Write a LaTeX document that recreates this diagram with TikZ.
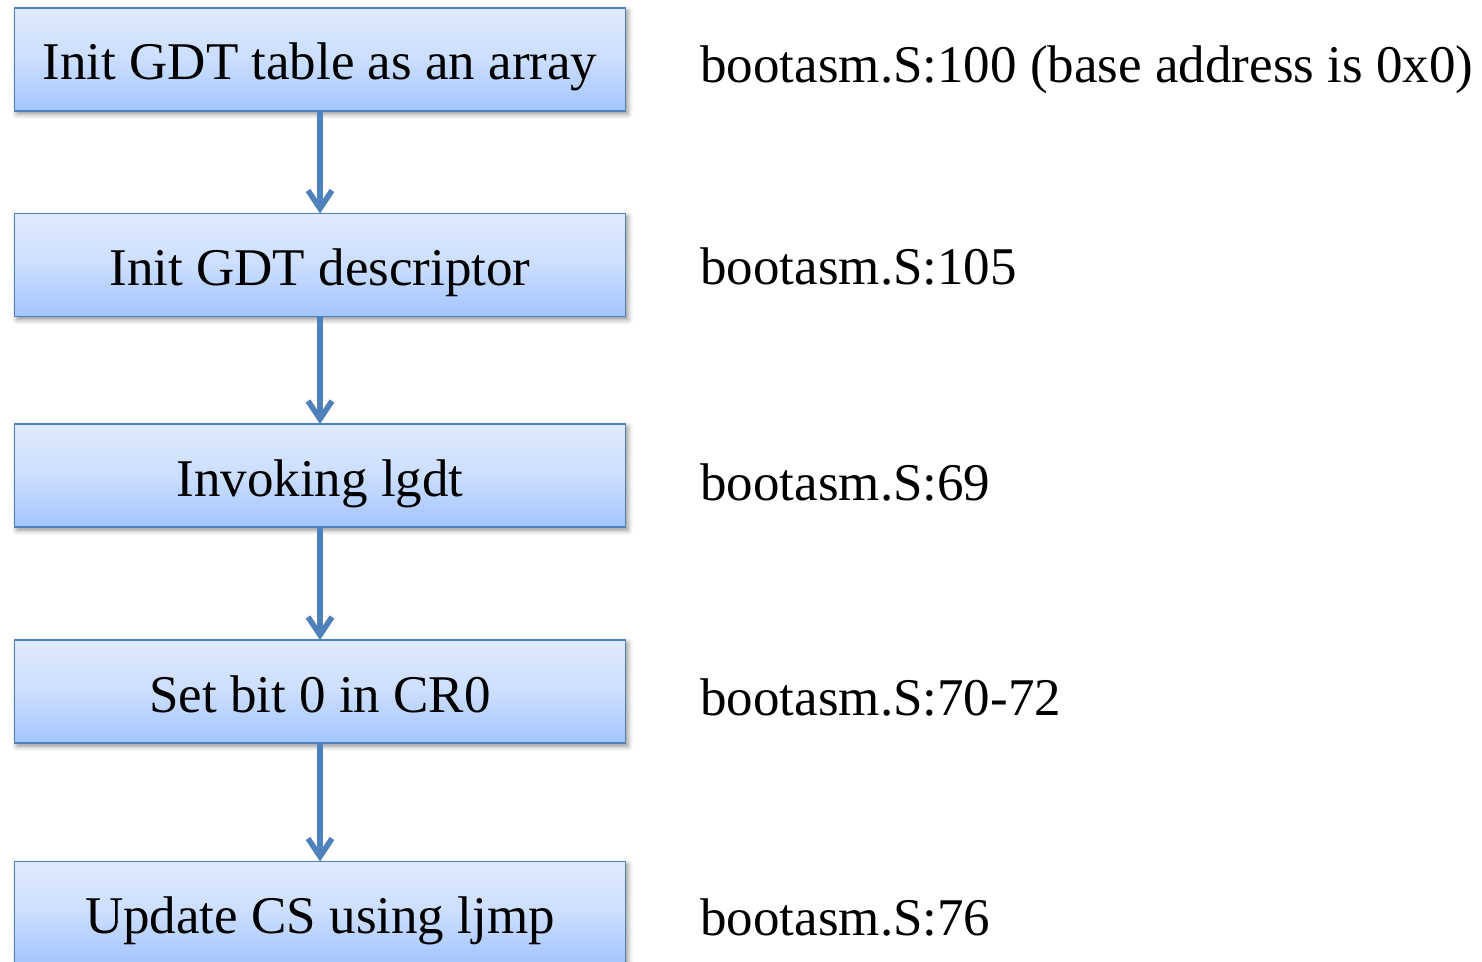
\documentclass[tikz,border=0pt]{standalone}
\usepackage{fontspec}
\setmainfont{Liberation Serif}
\usetikzlibrary{arrows.meta,shadows.blur}

\definecolor{edgeblue}{RGB}{79,129,189}
\definecolor{fillTop}{RGB}{224,235,253}
\definecolor{fillMid}{RGB}{203,222,254}
\definecolor{fillBot}{RGB}{163,196,255}

\tikzset{
  stepbox/.style={
    draw=edgeblue, line width=0.8pt,
    top color=fillTop, bottom color=fillBot, middle color=fillMid,
    minimum width=305.5pt, minimum height=51.5pt,
    inner sep=0pt, outer sep=0pt,
    text height=20.5pt, text depth=0pt,
    font=\fontsize{26.5}{30}\selectfont,
    blur shadow={shadow xshift=1.2pt, shadow yshift=-1.5pt,
                 shadow blur radius=2.5pt, shadow opacity=45}
  },
  note/.style={
    anchor=base west, inner sep=0pt,
    font=\fontsize{26.5}{30}\selectfont
  },
  flow/.style={
    draw=edgeblue, line width=2.8pt,
    -{Straight Barb[length=9pt, width=12pt, line width=2.8pt]}
  }
}

\begin{document}
\begin{tikzpicture}[x=0.5pt, y=-0.5pt]
  \useasboundingbox (0,0) rectangle (1482,962);

  % flow steps
  \node[stepbox] (b1) at (320,59.5)  {Init GDT table as an array};
  \node[stepbox] (b2) at (320,265)   {Init GDT descriptor};
  \node[stepbox] (b3) at (320,475.5) {Invoking lgdt};
  \node[stepbox] (b4) at (320,691.5) {Set bit 0 in CR0};
  \node[stepbox] (b5) at (320,913)   {Update CS using ljmp};

  % source locations (placed on their baselines)
  \node[note] (n1) at (700,83)  {bootasm.S:100 (base address is 0x0)};
  \node[note] (n2) at (700,285) {bootasm.S:105};
  \node[note] (n3) at (700,500) {bootasm.S:69};
  \node[note] (n4) at (700,715) {bootasm.S:70-72};
  \node[note] (n5) at (700,935) {bootasm.S:76};

  % connectors
  \draw[flow] (b1.south) -- (b2.north);
  \draw[flow] (b2.south) -- (b3.north);
  \draw[flow] (b3.south) -- (b4.north);
  \draw[flow] (b4.south) -- (b5.north);
\end{tikzpicture}
\end{document}
